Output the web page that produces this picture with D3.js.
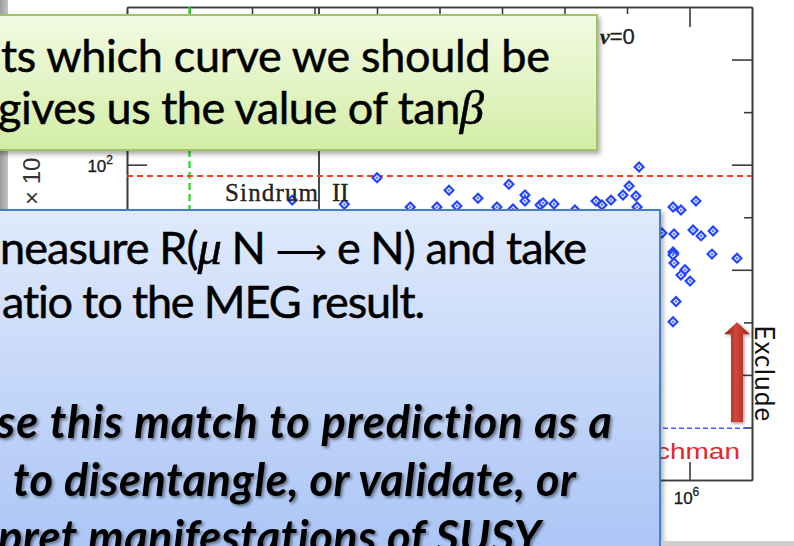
<!DOCTYPE html>
<html>
<head>
<meta charset="utf-8">
<script src="https://cdn.jsdelivr.net/npm/d3@7"></script>
<style>
  html, body { margin: 0; padding: 0; background: #fff; }
  svg { display: block; }
  text { font-variant-ligatures: none; }
</style>
</head>
<body>
<svg id="chart" width="794" height="546"></svg>
<script>
// ---- data -------------------------------------------------------------
// scan points: [x, ratio]
const scanPoints = [
  [0.44, 46], [3.0, 42], [10, 75], [142, 57], [413, 48], [1290, 65],
  [2330, 51.5], [2330, 45], [34, 39.5], [91, 39.5], [190, 40.5], [830, 39.5],
  [1500, 37.8], [4060, 41.4], [4530, 43.3], [6790, 42.3], [14700, 37],
  [31900, 45], [39800, 41.4], [55500, 46], [86300, 51.5], [108000, 62.7],
  [139000, 50.4], [156000, 95], [145000, 39.5], [545000, 39.5], [731000, 37],
  [1270000, 45], [363000, 22.4], [565000, 21.9], [1140000, 23.9],
  [1530000, 21], [2380000, 23.4], [545000, 14.8], [560000, 14.3],
  [545000, 13.8], [565000, 11.6], [2290000, 14.1], [5750000, 12.9],
  [847000, 10], [731000, 8.9], [1020000, 7.8], [608000, 5.0], [545000, 3.2]
];
const sindrumLimit = 78;      // red dashed horizontal
const futureLimit = 0.31;     // blue dashed horizontal
const greenCut = 0.01;        // green dashed vertical
const solidCut = 1.18;        // solid vertical

const xDomain = [1e-3, 1e7];
const yDomain = [0.1, 3162];
const xShortTicks = [1e-2, 1e-1, 10, 100, 1e3, 1e4, 1e5];
const xLongTicks = [1, 1e6];
const yLongTicks = [1, 10, 100, 1000];
const yShortTicks = [0.316, 3.16, 31.6, 316];
const yTickLabels = [{ v: 100, base: "10", exp: "2" }];
const xTickLabels = [{ v: 1e6, base: "10", exp: "6" }];

const greenLines = [
  { parts: [{ t: "ts which curve we should be" }], x0: 1, x1: 550, y: 72 },
  { parts: [{ t: "gives us the value of tan" }, { t: "\u03B2", math: true }], x0: -2, x1: 484, y: 124 }
];
const blueLines = [
  { parts: [{ t: "neasure R(" }, { t: "\u03BC", math: true }, { t: " N " }, { t: "\u27F6", arrow: true }, { t: " e N) and take" }], x0: 0, x1: 587, y: 264, strong: false },
  { parts: [{ t: "atio to the MEG result." }], x0: 2, x1: 425, y: 318, strong: false },
  { parts: [{ t: "se this match to prediction as a" }], x0: -3, x1: 612, y: 438, strong: true },
  { parts: [{ t: "to disentangle, or validate, or" }], x0: 13, x1: 576, y: 496, strong: true },
  { parts: [{ t: "pret manifestations of SUSY" }], x0: -2, x1: 541, y: 553, strong: true }
];

// ---- layout ------------------------------------------------------------
const W = 794, H = 546;
const plot = { left: 127, right: 752, top: 7, bottom: 480 };
const frameColor = "#3c3c3c";
const slideFont = "Lato, 'Open Sans', sans-serif";
const slideSize = 45;

const svg = d3.select("#chart");
svg.append("rect").attr("width", W).attr("height", H).attr("fill", "#fff");

const defs = svg.append("defs");
const grad = (id, stops, horizontal) => {
  const g = defs.append("linearGradient").attr("id", id)
    .attr("x1", 0).attr("y1", 0).attr("x2", horizontal ? 1 : 0).attr("y2", horizontal ? 0 : 1);
  stops.forEach(([o, c]) => g.append("stop").attr("offset", o).attr("stop-color", c));
};
grad("greenFill", [[0, "#f3fbe3"], [1, "#d3eda6"]]);
grad("blueFill", [[0, "#e0eafc"], [1, "#a8c3f6"]]);
grad("arrowFill", [[0, "#8e1b14"], [0.45, "#d2473b"], [1, "#9a241c"]], true);
grad("edgeFill", [[0, "#9d9d9d"], [1, "#c4c4c4"]], true);

const shadow = (id, dx, dy, sd, op) => defs.append("filter").attr("id", id)
  .attr("x", "-10%").attr("y", "-20%").attr("width", "130%").attr("height", "150%")
  .append("feDropShadow").attr("dx", dx).attr("dy", dy).attr("stdDeviation", sd)
  .attr("flood-color", "#000").attr("flood-opacity", op);
shadow("boxShadow", 2, 3, 2.5, 0.35);
shadow("textShadow", 2, 2, 1.4, 0.45);
shadow("arrowShadow", 1.5, 1.5, 1.5, 0.35);

// slide edge strip on the left
svg.append("rect").attr("x", 0).attr("y", 0).attr("width", 8).attr("height", H).attr("fill", "url(#edgeFill)");

// ---- scales and frame --------------------------------------------------
const x = d3.scaleLog().domain(xDomain).range([plot.left, plot.right]);
const y = d3.scaleLog().domain(yDomain).range([plot.bottom, plot.top]);

function axisTicks(axisFn, scale, values, size, tx, ty) {
  svg.append("g").attr("transform", `translate(${tx},${ty})`)
    .call(axisFn(scale).tickValues(values).tickSizeInner(size).tickSizeOuter(0).tickFormat(""))
    .call(g => {
      g.select(".domain").attr("stroke", frameColor).attr("stroke-width", 1.6);
      g.selectAll(".tick line").attr("stroke", frameColor).attr("stroke-width", 1.6);
    });
}
axisTicks(d3.axisTop, x, xShortTicks, -7, 0, plot.top);
axisTicks(d3.axisTop, x, xLongTicks, -20, 0, plot.top);
axisTicks(d3.axisBottom, x, xShortTicks, -7, 0, plot.bottom);
axisTicks(d3.axisBottom, x, xLongTicks, -18, 0, plot.bottom);
axisTicks(d3.axisLeft, y, yShortTicks, -8, plot.left, 0);
axisTicks(d3.axisLeft, y, yLongTicks, -20, plot.left, 0);
axisTicks(d3.axisRight, y, yShortTicks, -8, plot.right, 0);
axisTicks(d3.axisRight, y, yLongTicks, -20, plot.right, 0);

// tick labels
const tickFont = "'Liberation Sans', Arial, sans-serif";
yTickLabels.forEach(d => {
  const t = svg.append("text").attr("x", plot.left - 14).attr("y", y(d.v) + 7)
    .attr("text-anchor", "end").attr("font-family", tickFont).attr("font-size", 17).attr("fill", "#1a1a1a")
    .attr("stroke", "#1a1a1a").attr("stroke-width", 0.3);
  t.append("tspan").text(d.base);
  t.append("tspan").attr("dy", -8).attr("font-size", 12).text(d.exp);
});
xTickLabels.forEach(d => {
  const t = svg.append("text").attr("x", x(d.v) - 3).attr("y", plot.bottom + 24)
    .attr("text-anchor", "middle").attr("font-family", tickFont).attr("font-size", 17).attr("fill", "#1a1a1a")
    .attr("stroke", "#1a1a1a").attr("stroke-width", 0.3);
  t.append("tspan").text(d.base);
  t.append("tspan").attr("dy", -8).attr("font-size", 12).text(d.exp);
});

// rotated y-axis title fragment
svg.append("text").attr("transform", `translate(40,${y(100) - 7}) rotate(-90)`)
  .attr("text-anchor", "end").attr("font-family", tickFont).attr("font-size", 24).attr("fill", "#333")
  .text("\u00D7 10");

// ---- reference lines ---------------------------------------------------
svg.append("line")
  .attr("x1", x(solidCut)).attr("x2", x(solidCut)).attr("y1", plot.top).attr("y2", plot.bottom)
  .attr("stroke", "#333").attr("stroke-width", 1.8);
svg.append("line")
  .attr("x1", x(greenCut)).attr("x2", x(greenCut)).attr("y1", plot.top).attr("y2", plot.bottom)
  .attr("stroke", "#1fdc1f").attr("stroke-width", 2.2).attr("stroke-dasharray", "7,4");
svg.append("line")
  .attr("x1", plot.left).attr("x2", plot.right).attr("y1", y(sindrumLimit)).attr("y2", y(sindrumLimit))
  .attr("stroke", "#ff3c1e").attr("stroke-width", 2).attr("stroke-dasharray", "6,4");
svg.append("line")
  .attr("x1", plot.left).attr("x2", plot.right).attr("y1", y(futureLimit)).attr("y2", y(futureLimit))
  .attr("stroke", "#3a5cff").attr("stroke-width", 1.5).attr("stroke-dasharray", "5,3");

// ---- scan points -------------------------------------------------------
const diamond = d3.symbol().type(d3.symbolSquare).size(40);
const pts = svg.append("g");
pts.selectAll("path").data(scanPoints).join("path")
  .attr("d", diamond)
  .attr("transform", d => `translate(${x(d[0])},${y(d[1])}) rotate(45)`)
  .attr("fill", "#dfe5ff").attr("stroke", "#2243ff").attr("stroke-width", 2.1);
pts.selectAll("circle").data(scanPoints).join("circle")
  .attr("cx", d => x(d[0])).attr("cy", d => y(d[1])).attr("r", 1.1)
  .attr("fill", "#4f6bff");

// ---- chart annotations -------------------------------------------------
const sind = svg.append("text").attr("y", y(sindrumLimit) + 25)
  .attr("font-family", "'Liberation Serif', 'Times New Roman', serif").attr("font-size", 25).attr("fill", "#222")
  .attr("stroke", "#222").attr("stroke-width", 0.35);
sind.append("tspan").attr("x", 225).attr("textLength", 93).text("Sindrum");
sind.append("tspan").attr("x", 332).text("II");

const nu = svg.append("text").attr("x", 600).attr("y", 44)
  .attr("font-family", tickFont).attr("font-size", 22).attr("fill", "#222")
  .attr("stroke", "#222").attr("stroke-width", 0.3);
nu.append("tspan").attr("font-family", "'Liberation Serif', serif").attr("font-style", "italic").attr("font-weight", "bold").text("\u03BD");
nu.append("tspan").text("=0");

svg.append("text").attr("x", 740).attr("y", y(futureLimit) + 31)
  .attr("text-anchor", "end").attr("font-family", tickFont).attr("font-size", 22).attr("fill", "#e2272b")
  .attr("textLength", 84).attr("lengthAdjust", "spacingAndGlyphs")
  .text("chman");

// exclusion arrow above the future limit
const ax = plot.right - 15, aBase = y(futureLimit) - 6, aTip = y(futureLimit * 10) - 1;
svg.append("path")
  .attr("d", `M${ax - 6},${aBase} V${aTip + 12} H${ax - 13} L${ax},${aTip} L${ax + 13},${aTip + 12} H${ax + 6} V${aBase} Z`)
  .attr("fill", "url(#arrowFill)").attr("filter", "url(#arrowShadow)");
svg.append("text").attr("transform", `translate(755,${aTip + 3}) rotate(90)`)
  .attr("font-family", slideFont).attr("font-size", 26).attr("fill", "#111")
  .attr("textLength", 96).text("Exclude");

// ---- text boxes --------------------------------------------------------
function boxLine(g, d, size, strong) {
  const t = g.append("text").attr("x", d.x0).attr("y", d.y)
    .attr("font-family", slideFont).attr("font-size", size).attr("fill", "#000")
    .attr("textLength", d.x1 - d.x0).attr("lengthAdjust", "spacing");
  if (strong) t.attr("font-weight", "bold").attr("font-style", "italic").attr("filter", "url(#textShadow)");
  else t.attr("stroke", "#000").attr("stroke-width", 0.5);
  d.parts.forEach(p => {
    const s = t.append("tspan").text(p.t);
    if (p.math) s.attr("font-family", "'Liberation Serif', 'DejaVu Serif', serif").attr("font-style", "italic").attr("font-size", size * 1.08);
    if (p.arrow) s.attr("font-family", "'DejaVu Sans', sans-serif").attr("stroke-width", 0).attr("font-size", size * 0.8);
  });
}

const green = svg.append("g");
green.append("rect").attr("x", -10).attr("y", 15).attr("width", 607).attr("height", 135)
  .attr("fill", "url(#greenFill)").attr("stroke", "#9fc262").attr("stroke-width", 2)
  .attr("filter", "url(#boxShadow)");
greenLines.forEach(d => boxLine(green, d, slideSize, false));

const blue = svg.append("g");
blue.append("rect").attr("x", -10).attr("y", 210).attr("width", 670).attr("height", 360)
  .attr("fill", "url(#blueFill)").attr("stroke", "#4a7fc1").attr("stroke-width", 2)
  .attr("filter", "url(#boxShadow)");
blueLines.forEach(d => boxLine(blue, d, slideSize, d.strong));

// next slide element peeking in at the bottom
svg.append("rect").attr("x", 661).attr("y", 541).attr("width", 133).attr("height", 5).attr("fill", "#cfcfcf");
</script>
</body>
</html>
